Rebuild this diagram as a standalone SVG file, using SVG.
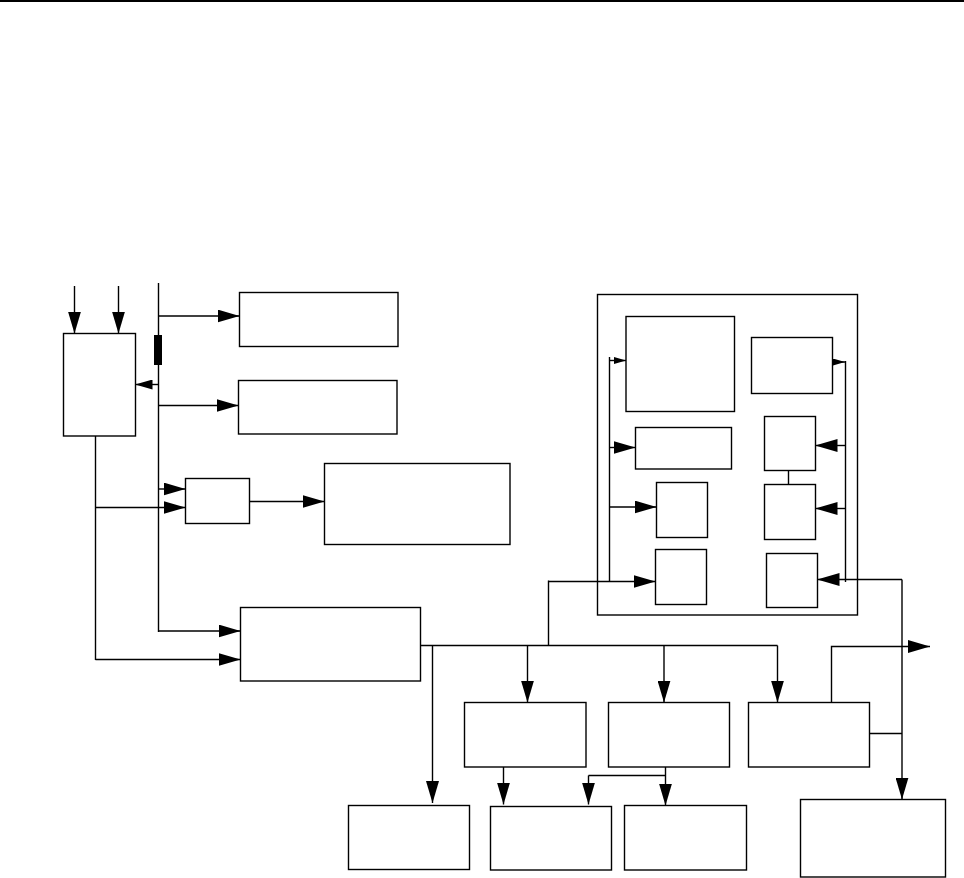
<svg xmlns="http://www.w3.org/2000/svg" width="964" height="878" viewBox="0 0 964 878">
<style>
.n{fill:#fff;stroke:#000;stroke-width:1.4}
.c{fill:none;stroke:#000;stroke-width:1.4}
.a{marker-end:url(#a)}
.s{marker-end:url(#s)}
.x{marker-end:url(#x)}
</style>
<defs>
<marker id="a" viewBox="0 0 22 13" refX="22" refY="6.5" markerWidth="22" markerHeight="13" markerUnits="userSpaceOnUse" orient="auto"><path d="M0,0L22,6.5L0,13z"/></marker>
<marker id="s" viewBox="0 0 17 10" refX="17" refY="5" markerWidth="17" markerHeight="10" markerUnits="userSpaceOnUse" orient="auto"><path d="M0,0L17,5L0,10z"/></marker>
<marker id="x" viewBox="0 0 12 7" refX="12" refY="3.5" markerWidth="12" markerHeight="7" markerUnits="userSpaceOnUse" orient="auto"><path d="M0,0L12,3.5L0,7z"/></marker>
</defs>
<rect x="0" y="0" width="964" height="2" fill="#000"/>
<g id="n-outer"><rect class="n" x="597.5" y="294.5" width="260" height="320.5"/></g>
<g id="n-tl"><rect class="n" x="63.5" y="333.5" width="72" height="102.5"/></g>
<g id="n-b1"><rect class="n" x="239.5" y="292.5" width="158.5" height="54"/></g>
<g id="n-b2"><rect class="n" x="238.5" y="380.5" width="158.5" height="53.5"/></g>
<g id="n-small"><rect class="n" x="185.5" y="478.5" width="64" height="45"/></g>
<g id="n-big"><rect class="n" x="324.5" y="463.5" width="185.5" height="81"/></g>
<g id="n-mid"><rect class="n" x="240.5" y="607.5" width="180" height="73.5"/></g>
<g id="n-i1"><rect class="n" x="626" y="316.5" width="108.5" height="95"/></g>
<g id="n-i2"><rect class="n" x="751.5" y="337.5" width="81" height="56"/></g>
<g id="n-i3"><rect class="n" x="635.5" y="427.5" width="96" height="41.5"/></g>
<g id="n-i4"><rect class="n" x="656.5" y="482.5" width="51" height="55"/></g>
<g id="n-i5"><rect class="n" x="655.5" y="549.5" width="51" height="55"/></g>
<g id="n-i6"><rect class="n" x="764.5" y="416.5" width="51" height="54"/></g>
<g id="n-i7"><rect class="n" x="764.5" y="484.5" width="51" height="55"/></g>
<g id="n-i8"><rect class="n" x="766.5" y="553.5" width="51" height="54"/></g>
<g id="n-a"><rect class="n" x="464.5" y="702.5" width="121.5" height="64.5"/></g>
<g id="n-b"><rect class="n" x="608.5" y="702.5" width="121" height="64.5"/></g>
<g id="n-c"><rect class="n" x="748.5" y="702.5" width="121" height="64.5"/></g>
<g id="n-d"><rect class="n" x="348.5" y="805.5" width="121" height="64"/></g>
<g id="n-e"><rect class="n" x="490.5" y="806.5" width="121" height="63.5"/></g>
<g id="n-f"><rect class="n" x="624.5" y="805.5" width="122" height="64.5"/></g>
<g id="n-g"><rect class="n" x="800.5" y="799.5" width="145" height="77.5"/></g>
<g id="n-bar"><rect x="154" y="335" width="8" height="30" fill="#000"/></g>
<g id="connectors">
<path class="c a" d="M74.5,286V333.5"/>
<path class="c a" d="M118.5,286V333.5"/>
<path class="c" d="M158.5,283V632"/>
<path class="c a" d="M158.5,316H239.5"/>
<path class="c s" d="M158.5,384.5H135.5"/>
<path class="c a" d="M158.5,405.5H238.5"/>
<path class="c a" d="M158.5,489H185.5"/>
<path class="c" d="M95.5,436V660"/>
<path class="c a" d="M95.5,507.5H185.5"/>
<path class="c a" d="M249.5,501.5H324.5"/>
<path class="c a" d="M158.5,631H240.5"/>
<path class="c a" d="M95.5,659.5H240.5"/>
<path class="c" d="M420.5,645.5H777.5"/>
<path class="c a" d="M432.5,645.5V803"/>
<path class="c" d="M548.5,645.5V580.5"/>
<path class="c a" d="M548.5,581.5H655.5"/>
<path class="c" d="M609.5,357V582"/>
<path class="c x" d="M609.5,360.5H626"/>
<path class="c a" d="M609.5,447.5H635.5"/>
<path class="c a" d="M609.5,507H656.5"/>
<path class="c a" d="M527.5,645.5V702.5"/>
<path class="c a" d="M664,645.5V702.5"/>
<path class="c a" d="M777.5,645.5V702.5"/>
<path class="c a" d="M831.5,702.5V646.5H930"/>
<path class="c" d="M869.5,733.5H902"/>
<path class="c a" d="M902,579.5V799.5"/>
<path class="c a" d="M902,579.5H817.5"/>
<path class="c" d="M845.5,361V582"/>
<path class="c x" d="M832.5,362H845"/>
<path class="c a" d="M845.5,445.5H815.5"/>
<path class="c a" d="M845.5,508.5H815.5"/>
<path class="c" d="M788.5,470.5V485"/>
<path class="c a" d="M503.5,767V804.5"/>
<path class="c a" d="M665.5,767V805.5"/>
<path class="c" d="M665.5,775.5H588.5"/>
<path class="c a" d="M588.5,775.5V804.5"/>
</g>
</svg>
